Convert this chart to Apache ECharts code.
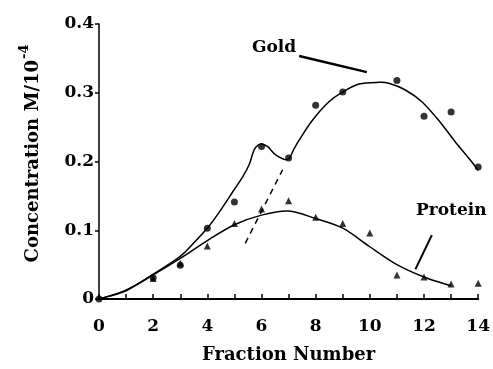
<!DOCTYPE html>
<html><head><meta charset="utf-8">
<script src="https://cdn.jsdelivr.net/npm/echarts@6/dist/echarts.min.js"></script>
<style>html,body{margin:0;padding:0;background:#fff}#c{width:493px;height:369px}</style>
</head><body><div id="c"></div>
<script>
// Measured data points
const goldX = [0, 2, 3, 4, 5, 6, 7, 8, 9, 11, 12, 13, 14];
const goldY = [0, 0.031, 0.049, 0.103, 0.141, 0.222, 0.205, 0.282, 0.301, 0.318, 0.266, 0.272, 0.192];
const proteinX = [2, 3, 4, 5, 6, 7, 8, 9, 10, 11, 12, 13, 14];
const proteinY = [0.030, 0.052, 0.077, 0.110, 0.131, 0.143, 0.119, 0.110, 0.096, 0.035, 0.032, 0.022, 0.023];
// Fitted curves
const goldCurveX = [0, 1, 2, 3, 3.53, 4.02, 4.45, 4.94, 5.31, 5.55, 5.67, 5.78, 5.98, 6.23, 6.53, 6.96, 7.21, 7.39, 7.88, 8.49, 8.98, 9.6, 10.33, 10.7, 11.31, 11.92, 12.54, 13.15, 13.76, 14];
const goldCurveY = [0, 0.012, 0.036, 0.062, 0.083, 0.104, 0.127, 0.156, 0.178, 0.196, 0.211, 0.2205, 0.2255, 0.2215, 0.2095, 0.203, 0.219, 0.231, 0.26, 0.287, 0.3006, 0.3127, 0.3151, 0.3137, 0.304, 0.287, 0.26, 0.2288, 0.1997, 0.187];
const proteinCurveX = [0, 1, 2, 3, 4, 5, 6, 7, 8, 9, 10, 11, 12, 13];
const proteinCurveY = [0, 0.013, 0.035, 0.059, 0.085, 0.108, 0.122, 0.128, 0.117, 0.103, 0.076, 0.05, 0.032, 0.019];
// Dashed extrapolation line
const dashX = [5.4, 6.78];
const dashY = [0.081, 0.188];
// Annotation leader lines
const goldLeaderX = [7.39, 9.89];
const goldLeaderY = [0.3535, 0.330];
const proteinLeaderX = [12.29, 11.68];
const proteinLeaderY = [0.093, 0.043];
const xTicks = [0, 2, 4, 6, 8, 10, 12, 14];
const yTicks = [0, 0.1, 0.2, 0.3, 0.4];

const zip = (a, b) => a.map((v, i) => [v, b[i]]);
const FONT = 'DejaVu Serif';

// Smooth curve through the data points, converted with the chart's own scales
function curveSeries(xs, ys) {
  return {
    type: 'custom',
    data: [[xs[0], ys[0]]],
    silent: true,
    renderItem: function (params, api) {
      const p = xs.map((x, i) => api.coord([x, ys[i]]));
      let d = 'M' + p[0][0] + ' ' + p[0][1];
      for (let i = 0; i < p.length - 1; i++) {
        const p0 = p[Math.max(i - 1, 0)], p1 = p[i], p2 = p[i + 1], p3 = p[Math.min(i + 2, p.length - 1)];
        const c1 = [p1[0] + (p2[0] - p0[0]) / 6, p1[1] + (p2[1] - p0[1]) / 6];
        const c2 = [p2[0] - (p3[0] - p1[0]) / 6, p2[1] - (p3[1] - p1[1]) / 6];
        d += ' C' + c1[0] + ' ' + c1[1] + ' ' + c2[0] + ' ' + c2[1] + ' ' + p2[0] + ' ' + p2[1];
      }
      return {type: 'path', shape: {pathData: d}, style: {stroke: '#000', fill: null, lineWidth: 1.5}};
    }
  };
}

const chart = echarts.init(document.getElementById('c'), null, {renderer: 'canvas'});
chart.setOption({
  animation: false,
  backgroundColor: '#fff',
  grid: {left: 99, right: 13, top: 24, bottom: 70},
  xAxis: {
    type: 'value', min: 0, max: 14, interval: 1,
    name: 'Fraction Number', nameLocation: 'middle', nameGap: 47,
    nameTextStyle: {fontFamily: FONT, fontWeight: 'bold', fontSize: 18, color: '#000'},
    axisLine: {lineStyle: {color: '#000', width: 2}},
    axisTick: {inside: true, length: 5, lineStyle: {color: '#000', width: 1.5}},
    axisLabel: {margin: 19, fontFamily: FONT, fontWeight: 'bold', fontSize: 17, color: '#000',
      formatter: v => xTicks.indexOf(v) >= 0 ? String(v) : ''},
    splitLine: {show: false}
  },
  yAxis: {
    type: 'value', min: 0, max: 0.4, interval: 0.1,
    name: '{m|Concentration M/10}{s|-4}', nameLocation: 'middle', nameGap: 57, nameRotate: 90,
    nameTextStyle: {color: '#000', padding: [0, 0, 0, 16], rich: {
      m: {fontFamily: FONT, fontWeight: 'bold', fontSize: 18, color: '#000', lineHeight: 24, verticalAlign: 'bottom'},
      s: {fontFamily: FONT, fontWeight: 'bold', fontSize: 13, color: '#000', lineHeight: 24, verticalAlign: 'top', padding: [0, 0, 10, 1]}
    }},
    axisLine: {show: true, lineStyle: {color: '#000', width: 1.5}},
    axisTick: {show: true, inside: false, length: 4, lineStyle: {color: '#000', width: 1.5}},
    axisLabel: {margin: 5, fontFamily: FONT, fontWeight: 'bold', fontSize: 17, color: '#000',
      formatter: v => { const t = yTicks.find(k => Math.abs(k - v) < 1e-9); return t === 0 ? '0' : (t !== undefined ? t.toFixed(1) : ''); }},
    splitLine: {show: false}
  },
  graphic: [
    {type: 'text', left: 252, top: 39, style: {text: 'Gold', font: 'bold 17px "DejaVu Serif"', fill: '#000'}},
    {type: 'text', left: 416, top: 202, style: {text: 'Protein', font: 'bold 17px "DejaVu Serif"', fill: '#000'}}
  ],
  series: [
    curveSeries(goldCurveX, goldCurveY),
    curveSeries(proteinCurveX, proteinCurveY),
    {type: 'line', data: zip(dashX, dashY), showSymbol: false, lineStyle: {color: '#000', width: 1.5, type: [6, 5]}},
    {type: 'line', data: zip(goldLeaderX, goldLeaderY), showSymbol: false, lineStyle: {color: '#000', width: 2.5}},
    {type: 'line', data: zip(proteinLeaderX, proteinLeaderY), showSymbol: false, lineStyle: {color: '#000', width: 2}},
    {type: 'scatter', data: zip(goldX, goldY), symbol: 'circle', symbolSize: 7, itemStyle: {color: '#000'}},
    {type: 'scatter', data: zip(proteinX, proteinY), symbol: 'triangle', symbolSize: 7, itemStyle: {color: '#000'}}
  ]
});
</script></body></html>
